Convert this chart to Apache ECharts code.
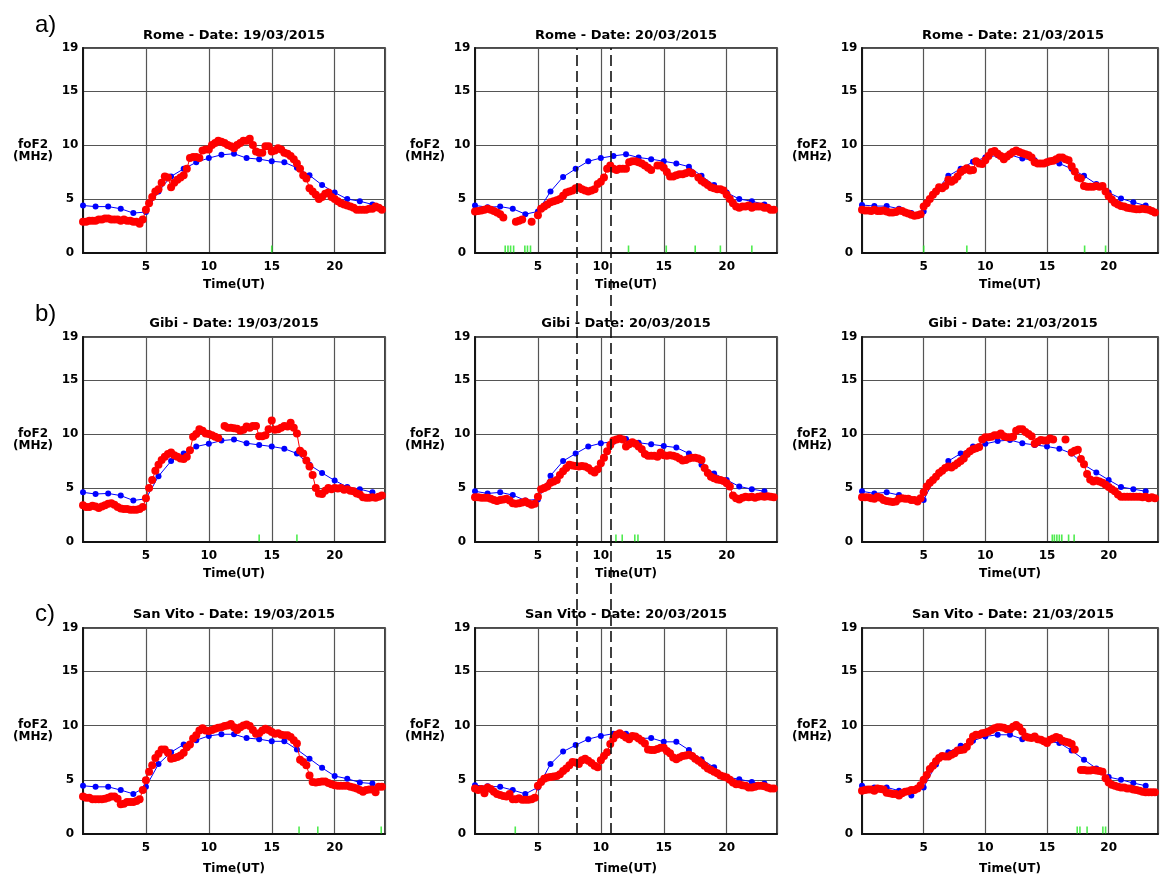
<!DOCTYPE html>
<html lang="en" style="height: 100%">
<head>
  <meta charset="utf-8">
</head>
<body style="height: 100%; margin: 0; background: #fff">
  <div id="container" style="height: 100%"></div>

  <script type="text/javascript" src="https://cdn.jsdelivr.net/npm/echarts@6/dist/echarts.min.js"></script>

  <script type="text/javascript">
    // foF2 at three ionosondes, 19-21 March 2015
    var stations = ['Rome', 'Gibi', 'San Vito'];
    var dates = ['19/03/2015', '20/03/2015', '21/03/2015'];
    var rowLetters = ['a)', 'b)', 'c)'];
    var hours = [0, 1, 2, 3, 4, 5, 6, 7, 8, 9, 10, 11, 12, 13, 14, 15, 16, 17, 18, 19, 20, 21, 22, 23];
    var yTickLabels = [0, 5, 10, 15, 19];
    var xTickLabels = [5, 10, 15, 20];
    var eventLines = [8.1, 10.8];   // dashed markers on 20/03

    // blue = hourly reference, red = 15-min observations, green = flags
    var romeMed19 = [4.4, 4.3, 4.3, 4.1, 3.7, 3.8, 5.7, 7.1, 7.8, 8.4, 8.8, 9.1, 9.2, 8.8, 8.7, 8.5, 8.4, 7.9, 7.2, 6.3, 5.6, 5.0, 4.8, 4.5];
    var romeObs19 = [
      2.9, 2.9, 3.0, 3.0,  3.0, 3.1, 3.1, 3.2,  3.2, 3.1, 3.1, 3.1,  3.0, 3.1, 3.0, 3.0,
      2.9, 2.9, 2.7, 3.1,  4.0, 4.6, 5.2, 5.7,  5.9, 6.5, 7.1, 7.0,  6.1, 6.5, 6.8, 7.0,
      7.2, 7.8, 8.8, 8.9,  8.9, 8.8, 9.5, 9.6,  9.6, 10.0, 10.2, 10.4,  10.3, 10.2, 10.0, 9.9,
      9.7, 10.0, 10.2, 10.4,  10.4, 10.6, 10.0, 9.4,  9.3, 9.3, 9.9, 9.9,  9.4, 9.5, 9.7, 9.6,
      9.3, 9.2, 9.0, 8.7,  8.3, 7.8, 7.2, 6.9,  6.0, 5.7, 5.4, 5.0,  5.2, 5.5, 5.6, 5.2,
      5.0, 4.8, 4.6, 4.5,  4.4, 4.3, 4.2, 4.0,  4.0, 4.0, 4.0, 4.1,  4.1, 4.3, 4.2, 4.0
    ];
    var romeFlag19 = [15.0];

    var romeMed20 = [4.4, 4.25, 4.3, 4.1, 3.6, 3.85, 5.7, 7.05, 7.8, 8.5, 8.8, 9.0, 9.15, 8.85, 8.7, 8.5, 8.3, 8.0, 7.15, 6.3, 5.6, 5.0, 4.8, 4.5];
    var romeObs20 = [
      3.85, 3.9, 3.95, 4.0,  4.1, 4.0, 3.9, 3.75,  3.6, 3.3, null, null,  null, 2.9, 3.0, 3.1,
      null, null, 2.9, null,  3.5, 4.1, 4.3, 4.5,  4.7, 4.8, 4.9, 5.0,  5.3, 5.6, 5.7, 5.8,
      6.0, 6.1, 5.9, 5.8,  5.7, 5.8, 5.9, 6.4,  6.6, 7.0, 7.8, 8.1,  7.8, 7.7, 7.8, 7.8,
      7.8, 8.4, 8.5, 8.5,  8.4, 8.3, 8.1, 7.9,  7.7, null, 8.1, 8.1,  7.9, 7.5, 7.1, 7.1,
      7.2, 7.3, 7.3, 7.4,  7.5, 7.4, null, 7.0,  6.7, 6.5, 6.3, 6.1,  6.0, 5.9, 5.9, 5.8,
      5.4, 5.0, 4.6, 4.3,  4.2, 4.3, 4.3, 4.4,  4.2, 4.3, 4.3, 4.3,  4.2, 4.2, 4.0, 4.0
    ];
    var romeFlag20 = [2.4, 2.62, 2.83, 3.07, 3.96, 4.17, 4.41, 12.2, 15.2, 17.5, 19.5, 22.0];

    var romeMed21 = [4.45, 4.35, 4.35, 4.1, 3.7, 3.85, 5.7, 7.15, 7.8, 8.45, 8.85, 9.05, 9.1, 8.75, 8.6, 8.45, 8.3, 7.8, 7.15, 6.4, 5.6, 5.05, 4.7, 4.4];
    var romeObs21 = [
      4.0, 3.95, 3.95, 3.9,  4.0, 3.9, 3.9, 3.95,  3.85, 3.75, 3.75, 3.8,  3.95, 3.9, 3.75, 3.65,
      3.55, 3.45, 3.5, 3.6,  4.3, 4.6, 5.0, 5.4,  5.7, 6.1, 6.0, 6.2,  6.8, 6.6, 6.8, 7.1,
      7.5, 7.7, 7.85, 7.65,  7.7, 8.5, 8.3, 8.25,  8.6, 9.0, 9.35, 9.45,  9.2, 9.0, 8.7, 8.95,
      9.15, 9.35, 9.5, 9.35,  9.25, 9.15, 9.05, 8.85,  8.4, 8.3, 8.3, 8.3,  8.4, 8.5, 8.55, 8.7,
      8.85, 8.85, 8.7, 8.6,  8.05, 7.55, 7.0, 6.9,  6.2, 6.15, 6.15, 6.15,  6.2, 6.15, 6.2, 5.7,
      5.25, 4.95, 4.65, 4.5,  4.35, 4.3, 4.2, 4.15,  4.1, 4.05, 4.05, 4.1,  4.05, 4.0, 3.9, 3.75
    ];
    var romeFlag21 = [5.0, 8.5, 18.05, 19.75];

    var gibiMed19 = [4.6, 4.45, 4.5, 4.3, 3.85, 4.0, 6.1, 7.5, 8.2, 8.85, 9.1, 9.4, 9.5, 9.15, 9.0, 8.85, 8.65, 8.2, 7.15, 6.4, 5.7, 5.1, 4.9, 4.6];
    var gibiObs19 = [
      3.4, 3.25, 3.25, 3.35,  3.3, 3.15, 3.3, 3.4,  3.55, 3.6, 3.45, 3.25,  3.1, 3.05, 3.05, 3.0,
      3.0, 3.0, 3.05, 3.25,  4.05, 5.0, 5.75, 6.6,  7.15, 7.6, 7.9, 8.15,  8.3, 8.05, 7.9, 7.75,
      7.7, 7.9, 8.5, 9.75,  10.0, 10.45, 10.3, 10.05,  10.0, 9.9, 9.75, 9.65,  null, 10.75, 10.6, 10.6,
      10.55, 10.5, 10.3, 10.4,  10.7, 10.6, 10.75, 10.75,  9.8, 9.8, 9.9, 10.45,  11.25, 10.4, 10.45, 10.6,
      10.75, 10.7, 11.05, 10.6,  10.05, 8.45, 8.2, 7.55,  7.0, 6.2, 5.0, 4.5,  4.45, 4.75, 5.0, 4.9,
      5.0, 4.95, 5.0, 4.85,  4.9, 4.75, 4.7, 4.5,  4.4, 4.15, 4.1, 4.1,  4.15, 4.1, 4.2, 4.3
    ];
    var gibiFlag19 = [14.0, 17.0];

    var gibiMed20 = [4.7, 4.5, 4.6, 4.35, 3.85, 3.95, 6.15, 7.5, 8.2, 8.85, 9.15, 9.3, 9.55, 9.2, 9.05, 8.9, 8.75, 8.2, 7.15, 6.35, 5.75, 5.15, 4.9, 4.7];
    var gibiObs20 = [
      4.15, 4.15, 4.1, 4.1,  4.1, 4.0, 3.9, 3.8,  3.9, 3.95, 4.0, 3.85,  3.6, 3.55, 3.6, 3.65,
      3.75, 3.6, 3.45, 3.55,  4.2, 4.9, 5.0, 5.15,  5.5, 5.6, 5.75, 6.2,  6.55, 6.85, 7.15, 7.1,
      7.05, 7.0, 7.05, 7.0,  6.85, 6.6, 6.45, 6.75,  7.3, 7.8, 8.4, 9.0,  9.4, 9.5, 9.6, 9.5,
      8.85, 9.05, 9.25, 9.1,  8.85, 8.6, 8.15, 8.0,  8.0, 8.0, 7.9, 8.3,  8.05, 8.0, 8.05, 8.0,
      7.9, 7.75, 7.55, 7.6,  7.75, 7.8, 7.8, 7.75,  7.6, 6.85, 6.4, 6.05,  5.9, 5.8, 5.75, 5.65,
      5.45, 5.15, 4.3, 4.05,  3.95, 4.1, 4.2, 4.15,  4.2, 4.1, 4.2, 4.25,  4.2, 4.25, 4.2, 4.15
    ];
    var gibiFlag20 = [11.2, 11.7, 12.7, 12.95];

    var gibiMed21 = [4.7, 4.5, 4.6, 4.35, 3.85, 3.9, 6.1, 7.5, 8.2, 8.85, 9.1, 9.35, 9.45, 9.15, 9.0, 8.85, 8.65, 8.2, 7.15, 6.45, 5.75, 5.1, 4.9, 4.7];
    var gibiObs21 = [
      4.15, 4.15, 4.15, 4.05,  4.0, 4.2, 4.1, 3.9,  3.8, 3.75, 3.7, 3.75,  4.0, 4.05, 4.0, 4.0,
      3.9, 3.9, 3.75, 4.05,  4.6, 5.15, 5.5, 5.75,  6.05, 6.4, 6.6, 6.85,  7.0, 6.9, 7.1, 7.3,
      7.5, 7.75, 8.15, 8.4,  8.6, 8.7, 8.8, 9.5,  9.7, 9.7, 9.75, 9.9,  9.9, 10.05, 9.8, 9.7,
      9.7, 9.75, 10.3, 10.45,  10.45, 10.2, 10.0, 9.8,  9.1, 9.3, 9.45, 9.4,  9.4, 9.6, 9.5, null,
      null, null, 9.5, null,  8.3, 8.45, 8.55, 7.7,  7.2, 6.3, 5.8, 5.6,  5.7, 5.6, 5.5, 5.3,
      5.1, 4.9, 4.7, 4.4,  4.2, 4.2, 4.2, 4.2,  4.2, 4.2, 4.2, 4.15,  4.2, 4.05, 4.15, 4.05
    ];
    var gibiFlag21 = [15.43, 15.6, 15.8, 16.0, 16.2, 16.75, 17.2];

    var vitoMed19 = [4.45, 4.35, 4.35, 4.05, 3.7, 4.35, 6.45, 7.55, 8.25, 8.65, 9.05, 9.2, 9.2, 8.85, 8.75, 8.55, 8.55, 7.8, 6.95, 6.1, 5.35, 5.1, 4.75, 4.65];
    var vitoObs19 = [
      3.45, 3.35, 3.35, 3.2,  3.2, 3.2, 3.2, 3.25,  3.35, 3.45, 3.45, 3.25,  2.75, 2.8, 2.95, 2.95,
      2.95, 3.05, 3.2, 4.05,  4.95, 5.75, 6.35, 7.0,  7.4, 7.8, 7.8, 7.5,  6.95, 7.0, 7.1, 7.25,
      7.5, 8.0, 8.25, 8.8,  9.1, 9.55, 9.75, 9.55,  9.5, 9.6, 9.7, 9.8,  9.85, 9.95, 10.0, 10.15,
      9.85, 9.6, 9.85, 10.0,  10.1, 9.95, 9.6, 9.25,  9.3, 9.55, 9.7, 9.6,  9.4, 9.25, 9.3, 9.15,
      9.1, 9.1, 8.95, 8.65,  8.35, 6.85, 6.65, 6.35,  5.4, 4.8, 4.75, 4.8,  4.85, 4.85, 4.7, 4.6,
      4.5, 4.45, 4.45, 4.45,  4.45, 4.35, 4.3, 4.2,  4.05, 3.9, 4.05, 4.1,  4.1, 3.85, 4.35, 4.35
    ];
    var vitoFlag19 = [17.17, 18.66, 23.7];

    var vitoMed20 = [4.5, 4.4, 4.35, 4.05, 3.7, 4.3, 6.45, 7.6, 8.2, 8.75, 9.05, 9.25, 9.25, 8.8, 8.85, 8.5, 8.5, 7.75, 6.9, 6.15, 5.25, 5.05, 4.8, 4.65];
    var vitoObs20 = [
      4.2, 4.05, 4.15, 3.75,  4.3, 4.15, 3.9, 3.7,  3.6, 3.5, 3.45, 3.7,  3.2, 3.2, 3.3, 3.15,
      3.15, 3.15, 3.2, 3.35,  4.45, 4.8, 5.1, 5.2,  5.25, 5.3, 5.35, 5.5,  5.8, 6.05, 6.35, 6.65,
      6.6, 6.45, 6.8, 6.95,  6.75, 6.55, 6.3, 6.15,  6.8, 7.2, 7.55, 8.3,  8.8, 9.15, 9.3, 9.1,
      8.9, 8.75, 9.05, 9.0,  8.8, 8.6, 8.35, 7.8,  7.75, 7.75, 7.85, 7.95,  7.95, 7.65, 7.45, 7.05,
      6.9, 7.05, 7.2, 7.25,  7.3, 7.2, 6.95, 6.75,  6.55, 6.3, 6.05, 5.9,  5.75, 5.6, 5.4, 5.3,
      5.2, 5.0, 4.75, 4.6,  4.6, 4.5, 4.45, 4.3,  4.3, 4.35, 4.45, 4.45,  4.4, 4.3, 4.2, 4.2
    ];
    var vitoFlag20 = [3.2];

    var vitoMed21 = [4.45, 4.3, 4.3, 4.0, 3.55, 4.3, 6.4, 7.55, 8.15, 8.6, 9.0, 9.15, 9.15, 8.75, 8.85, 8.55, 8.4, 7.7, 6.85, 6.05, 5.25, 5.0, 4.7, 4.45];
    var vitoObs21 = [
      4.0, 4.05, 4.1, 4.1,  4.0, 4.2, 4.15, 4.1,  3.8, 3.75, 3.7, 3.7,  3.55, 3.75, 3.9, 3.95,
      4.05, 4.05, 4.2, 4.5,  5.0, 5.45, 6.0, 6.3,  6.7, 7.0, 7.2, 7.15,  7.15, 7.3, 7.45, 7.7,
      7.75, 7.8, 8.05, 8.5,  9.0, 9.15, 9.15, 9.3,  9.35, 9.45, 9.6, 9.75,  9.85, 9.85, 9.8, 9.65,
      9.65, 9.9, 10.05, 9.85,  9.45, 9.0, 8.9, 8.85,  9.0, 8.75, 8.7, 8.55,  8.4, 8.7, 8.8, 8.95,
      8.85, 8.6, 8.5, 8.45,  8.3, 7.8, null, 5.9,  5.9, 5.85, 5.85, 5.9,  5.85, 5.8, 5.75, 5.15,
      4.75, 4.55, 4.45, 4.35,  4.3, 4.3, 4.2, 4.2,  4.1, 4.05, 4.0, 3.9,  3.85, 3.85, 3.85, 3.85
    ];
    var vitoFlag21 = [17.45, 17.67, 18.25, 19.53, 19.75];

    var panels = [
      [[romeMed19, romeObs19, romeFlag19], [romeMed20, romeObs20, romeFlag20], [romeMed21, romeObs21, romeFlag21]],
      [[gibiMed19, gibiObs19, gibiFlag19], [gibiMed20, gibiObs20, gibiFlag20], [gibiMed21, gibiObs21, gibiFlag21]],
      [[vitoMed19, vitoObs19, vitoFlag19], [vitoMed20, vitoObs20, vitoFlag20], [vitoMed21, vitoObs21, vitoFlag21]]
    ];

    // observation times, every 15 minutes
    var quarterHours = [];
    for (var q = 0; q < 96; q++) quarterHours.push(q / 4);

    // layout (px)
    var colLeft = [83, 475, 862];
    var rowTop = [48, 337, 628];
    var rowH = [205, 205, 206];
    var plotW = 302;
    var titleTop = [29, 317, 608];
    var letterTop = [13, 302, 602];
    var xNameGap = [26, 26, 29];

    var font = 'DejaVu Sans';

    var dom = document.getElementById('container');
    var myChart = echarts.init(dom, null, { renderer: 'canvas' });

    var grids = [], xAxes = [], yAxes = [], series = [], titles = [];

    for (var r = 0; r < 3; r++) {
      titles.push({
        text: rowLetters[r], left: 35, top: letterTop[r], padding: 0,
        textStyle: { fontFamily: 'Liberation Sans', fontWeight: 'normal', fontSize: 24, lineHeight: 24, color: '#000' }
      });
      for (var c = 0; c < 3; c++) {
        var g = grids.length;
        grids.push({
          left: colLeft[c], top: rowTop[r], width: plotW, height: rowH[r],
          show: true, borderColor: '#111', borderWidth: 1.6, backgroundColor: '#fff'
        });
        titles.push({
          text: stations[r] + ' - Date: ' + dates[c],
          left: colLeft[c] + plotW / 2, top: titleTop[r], textAlign: 'center', padding: 0,
          textStyle: { fontFamily: font, fontWeight: 'bold', fontSize: 13, color: '#000' }
        });
        xAxes.push({
          type: 'value', gridIndex: g, min: 0, max: 24, interval: 5,
          axisLine: { show: true, lineStyle: { color: '#111', width: 1.8 } },
          axisTick: { show: false },
          splitLine: { show: true, lineStyle: { color: '#555', width: 1.2 } },
          axisLabel: {
            margin: 8, color: '#000', fontFamily: font, fontWeight: 'bold', fontSize: 12,
            formatter: function (v) { return xTickLabels.indexOf(v) >= 0 ? String(v) : ''; }
          },
          name: 'Time(UT)', nameLocation: 'middle', nameGap: xNameGap[r],
          nameTextStyle: { color: '#000', fontFamily: font, fontWeight: 'bold', fontSize: 12 }
        });
        yAxes.push({
          type: 'value', gridIndex: g, min: 0, max: 19, interval: 5,
          axisLine: { show: true, lineStyle: { color: '#111', width: 1.8 } },
          axisTick: { show: false },
          splitLine: { show: true, lineStyle: { color: '#555', width: 1.2 } },
          axisLabel: {
            margin: 13, align: 'center', color: '#000', fontFamily: font, fontWeight: 'bold', fontSize: 12,
            formatter: function (v) { return yTickLabels.indexOf(v) >= 0 ? String(v) : ''; }
          },
          name: 'foF2\n(MHz)', nameLocation: 'middle', nameRotate: 0, nameGap: 50,
          nameTextStyle: {
            color: '#000', fontFamily: font, fontWeight: 'bold', fontSize: 12,
            align: 'center', lineHeight: 12, padding: [0, 0, 22, 0]
          }
        });

        var med = panels[r][c][0], obs = panels[r][c][1], flags = panels[r][c][2];
        series.push({
          type: 'line', xAxisIndex: g, yAxisIndex: g, z: 3,
          data: hours.map(function (h, i) { return [h, med[i]]; }),
          symbol: 'circle', symbolSize: 6,
          lineStyle: { color: '#0000ff', width: 1 }, itemStyle: { color: '#0000ff' }
        });
        series.push({
          type: 'line', xAxisIndex: g, yAxisIndex: g, z: 4,
          data: quarterHours.map(function (t, i) { return [t, obs[i]]; }),
          symbol: 'circle', symbolSize: 8, connectNulls: false,
          lineStyle: { color: '#ff0000', width: 1 }, itemStyle: { color: '#ff0000' }
        });
        series.push({
          type: 'scatter', xAxisIndex: g, yAxisIndex: g, z: 5,
          data: flags.map(function (t) { return [t, 0]; }),
          symbol: 'rect', symbolSize: [1.6, 7], symbolOffset: [0, -4],
          itemStyle: { color: '#22e622' }
        });
      }
    }

    // overlay spanning the middle column for the two dashed event markers
    var ov = grids.length;
    grids.push({ left: colLeft[1], top: rowTop[0], width: plotW, height: rowTop[2] + rowH[2] - rowTop[0], show: false });
    xAxes.push({ type: 'value', gridIndex: ov, min: 0, max: 24, show: false });
    yAxes.push({ type: 'value', gridIndex: ov, min: 0, max: 1, show: false });
    series.push({
      type: 'line', xAxisIndex: ov, yAxisIndex: ov, data: [], z: 10,
      markLine: {
        silent: true, symbol: 'none', label: { show: false },
        lineStyle: { color: '#111', width: 1.6, type: [11, 5] },
        data: eventLines.map(function (x) { return { xAxis: x }; })
      }
    });

    var option = {
      animation: false,
      backgroundColor: '#fff',
      title: titles,
      grid: grids,
      xAxis: xAxes,
      yAxis: yAxes,
      series: series
    };

    myChart.setOption(option);
    window.addEventListener('resize', myChart.resize);
  </script>
</body>
</html>
